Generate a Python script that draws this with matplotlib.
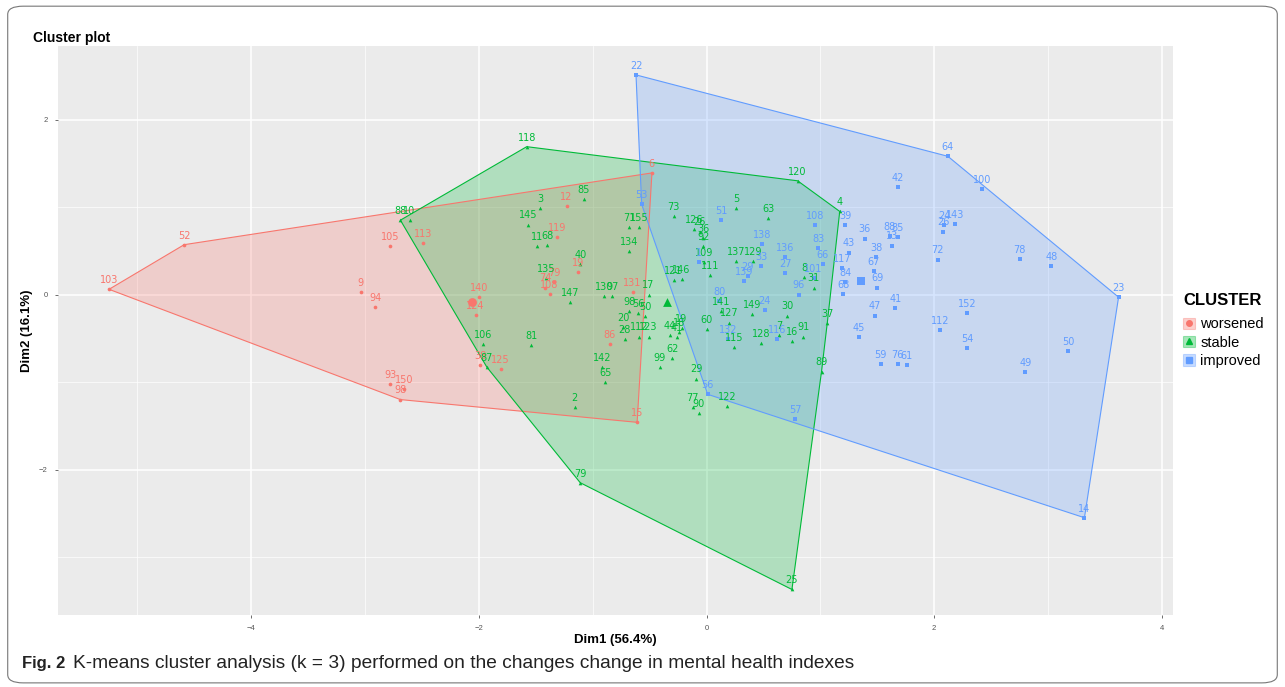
#!/usr/bin/env python3

import numpy as np
import matplotlib
matplotlib.use('Agg')
from matplotlib import pyplot as plt
from matplotlib.patches import Polygon, Patch, FancyBboxPatch
from matplotlib.lines import Line2D
from matplotlib.legend_handler import HandlerTuple
# --

clusters = ['worsened', 'stable', 'improved']

worsened_ids = ['103', '52', '105', '113', '9', '94', '93', '150', '98', '140', '124', '38',
                '125', '86', '15', '131', '6', '12', '119', '19', '74', '108', '79']
worsened_x = [-5.25, -4.59, -2.78, -2.49, -3.04, -2.91, -2.78, -2.66, -2.69, -2.0, -2.03, -1.99,
              -1.81, -0.85, -0.61, -0.65, -0.48, -1.23, -1.31, -1.13, -1.42, -1.38, -1.34]
worsened_y = [0.06, 0.57, 0.55, 0.59, 0.03, -0.14, -1.02, -1.08, -1.20, -0.03, -0.23, -0.81,
              -0.85, -0.57, -1.46, 0.03, 1.39, 1.01, 0.66, 0.26, 0.08, 0.01, 0.14]

stable_ids = ['118', '120', '4', '37', '89', '25', '79', '87', '106', '88', '10', '3', '85',
              '145', '11', '68', '40', '135', '147', '130', '97', '71', '155', '134', '17',
              '98', '56', '50', '20', '28', '112', '123', '142', '65', '81', '2', '99', '62',
              '44', '41', '18', '19', '29', '77', '90', '122', '60', '141', '127', '115',
              '149', '30', '128', '7', '16', '91', '73', '126', '26', '36', '92', '109',
              '111', '121', '146', '5', '63', '137', '129', '8', '31']
stable_x = [-1.58, 0.80, 1.17, 1.06, 1.01, 0.75, -1.11, -1.93, -1.96, -2.69, -2.61, -1.46, -1.08,
            -1.57, -1.49, -1.40, -1.11, -1.41, -1.20, -0.90, -0.83, -0.68, -0.59, -0.68, -0.51,
            -0.68, -0.60, -0.54, -0.73, -0.72, -0.59, -0.51, -0.92, -0.89, -1.54, -1.16, -0.41, -0.30,
            -0.32, -0.26, -0.24, -0.22, -0.09, -0.12, -0.07, 0.18, 0.0, 0.13, 0.20, 0.24,
            0.40, 0.71, 0.48, 0.64, 0.75, 0.85, -0.29, -0.11, -0.06, -0.03, -0.03, -0.02,
            0.03, -0.29, -0.22, 0.26, 0.54, 0.26, 0.41, 0.86, 0.94]
stable_y = [1.69, 1.30, 0.95, -0.33, -0.88, -3.37, -2.15, -0.83, -0.57, 0.85, 0.85, 0.99, 1.09,
            0.80, 0.55, 0.57, 0.35, 0.19, -0.09, -0.02, -0.02, 0.77, 0.77, 0.50, 0.0,
            -0.19, -0.21, -0.25, -0.37, -0.51, -0.48, -0.48, -0.83, -1.0, -0.58, -1.29, -0.83, -0.73,
            -0.46, -0.49, -0.43, -0.38, -0.96, -1.29, -1.35, -1.27, -0.39, -0.19, -0.32, -0.60,
            -0.22, -0.24, -0.55, -0.46, -0.53, -0.48, 0.90, 0.75, 0.72, 0.65, 0.55, 0.37,
            0.22, 0.17, 0.18, 0.99, 0.87, 0.38, 0.38, 0.20, 0.08]

improved_ids = ['22', '64', '100', '23', '14', '57', '56', '53', '42', '39', '36', '88', '85',
                '13', '24', '143', '26', '43', '38', '72', '78', '48', '117', '67', '84', '68',
                '69', '41', '47', '45', '59', '76', '61', '112', '152', '54', '49', '50', '108',
                '83', '66', '51', '138', '136', '27', '33', '139', '29', '101', '96', '1',
                '80', '24', '132', '116']
improved_x = [-0.62, 2.12, 2.42, 3.62, 3.32, 0.78, 0.01, -0.57, 1.68, 1.22, 1.39, 1.61, 1.68,
              1.63, 2.09, 2.18, 2.08, 1.25, 1.49, 2.03, 2.75, 3.03, 1.19, 1.47, 1.22, 1.20,
              1.50, 1.66, 1.48, 1.34, 1.53, 1.68, 1.76, 2.05, 2.29, 2.29, 2.80, 3.18, 0.95,
              0.98, 1.02, 0.13, 0.49, 0.69, 0.69, 0.48, 0.33, 0.36, 0.94, 0.81, -0.07,
              0.11, 0.51, 0.19, 0.62]
improved_y = [2.51, 1.58, 1.21, -0.03, -2.55, -1.42, -1.14, 1.03, 1.23, 0.79, 0.64, 0.67, 0.66,
              0.56, 0.79, 0.81, 0.72, 0.48, 0.43, 0.40, 0.41, 0.33, 0.30, 0.27, 0.14, 0.01,
              0.08, -0.15, -0.24, -0.49, -0.79, -0.79, -0.81, -0.41, -0.21, -0.61, -0.89, -0.65, 0.79,
              0.53, 0.35, 0.85, 0.58, 0.43, 0.25, 0.33, 0.15, 0.21, 0.19, 0.0, 0.37,
              -0.07, -0.18, -0.51, -0.51]

center_x = [-2.06, -0.35, 1.36]
center_y = [-0.08, -0.09, 0.15]

colors = ['#F8766D', '#00BA38', '#619CFF']
markers = ['o', '^', 's']
# --

def convex_hull(xs, ys):
  pts = sorted(set(zip(xs, ys)))
  def cross(o, a, b):
    return (a[0]-o[0])*(b[1]-o[1]) - (a[1]-o[1])*(b[0]-o[0])
  lower, upper = [], []
  for p in pts:
    while len(lower) >= 2 and cross(lower[-2], lower[-1], p) <= 0:
      lower.pop()
    lower.append(p)
  for p in reversed(pts):
    while len(upper) >= 2 and cross(upper[-2], upper[-1], p) <= 0:
      upper.pop()
    upper.append(p)
  return lower[:-1] + upper[:-1]
# --

plt.rcParams['font.family'] = ['Liberation Sans Narrow', 'Liberation Sans', 'DejaVu Sans']

fig = plt.figure(figsize=(12.85, 6.87), dpi=100)
ax = fig.add_axes([0.045, 0.105, 0.868, 0.828])
ax.set_facecolor('#EBEBEB')
for s in ax.spines.values():
  s.set_visible(False)

ax.set_xlim(-5.7, 4.1)
ax.set_ylim(-3.66, 2.84)
ax.set_xticks([-4, -2, 0, 2, 4])
ax.set_yticks([-2, 0, 2])
ax.set_xticks([-5, -3, -1, 1, 3], minor=True)
ax.set_yticks([-3, -1, 1], minor=True)
ax.grid(which='major', color='white', linewidth=1.1)
ax.grid(which='minor', color='white', linewidth=0.5)
ax.set_axisbelow(True)
ax.tick_params(which='major', length=2.5, width=0.6, color='#555555', labelsize=5.5,
               labelcolor='#555555', pad=5)
ax.tick_params(which='minor', length=0)

groups = [(worsened_ids, worsened_x, worsened_y),
          (stable_ids, stable_x, stable_y),
          (improved_ids, improved_x, improved_y)]

for k, (ids, xs, ys) in enumerate(groups):
  hull = convex_hull(xs, ys)
  ax.add_patch(Polygon(hull, closed=True, facecolor=colors[k], alpha=0.25,
                       edgecolor='none', zorder=1))
  ax.add_patch(Polygon(hull, closed=True, facecolor='none', edgecolor=colors[k],
                       linewidth=0.8, zorder=2))

for k, (ids, xs, ys) in enumerate(groups):
  ax.scatter(xs, ys, s=7, marker=markers[k], color=colors[k], zorder=3, linewidths=0)
  for lab, x, y in zip(ids, xs, ys):
    ax.annotate(lab, (x, y), xytext=(0, 3), textcoords='offset points', ha='center',
                va='bottom', fontsize=7, color=colors[k], family=['DejaVu Sans'], zorder=4)
  ax.scatter([center_x[k]], [center_y[k]], s=40, marker=markers[k], color=colors[k],
             zorder=5, linewidths=0)

ax.set_xlabel('Dim1 (56.4%)', fontsize=9.5, fontweight='bold', labelpad=1)
ax.set_ylabel('Dim2 (16.1%)', fontsize=9.5, fontweight='bold', labelpad=4)
ax.set_title('Cluster plot', loc='left', fontsize=10, fontweight='bold', x=-0.022, pad=3)

handles = []
for k in range(3):
  box = Patch(facecolor=colors[k], alpha=0.35, edgecolor=colors[k], linewidth=0.8)
  mk = Line2D([], [], marker=markers[k], color=colors[k], linestyle='none', markersize=4)
  handles.append((box, mk))
leg = fig.legend(handles, clusters, title='CLUSTER', loc='upper left',
                 bbox_to_anchor=(0.921, 0.574), frameon=False, fontsize=10.5,
                 handler_map={tuple: HandlerTuple(ndivide=1, pad=0)},
                 handlelength=0.8, handleheight=0.8, handletextpad=0.35,
                 labelspacing=0.3, borderaxespad=0, borderpad=0)
leg.get_title().set_fontweight('bold')
leg.get_title().set_fontsize(12)
leg._legend_box.align = 'left'
leg._legend_box.sep = 7

fig.patches.append(FancyBboxPatch((0.006, 0.006), 0.988, 0.985, transform=fig.transFigure,
                                  boxstyle='round,pad=0,rounding_size=0.012',
                                  facecolor='none', edgecolor='#777777', linewidth=0.8))
fig.text(0.017, 0.027, 'Fig. 2', fontsize=12, fontweight='bold', color='#222222')
fig.text(0.0568, 0.027, 'K-means cluster analysis (k = 3) performed on the changes change in mental health indexes',
         fontsize=13.8, color='#222222')

plt.savefig('out.png', dpi=100)
plt.close('all')
